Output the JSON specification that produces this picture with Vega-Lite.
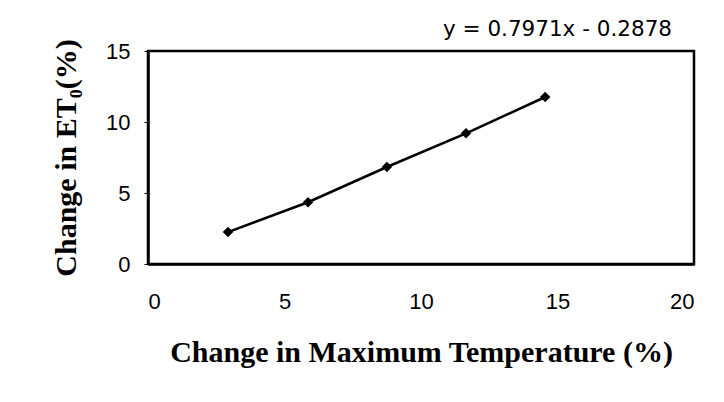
{
  "$schema": "https://vega.github.io/schema/vega-lite/v6.json",
  "autosize": "none",
  "width": 546,
  "height": 213,
  "padding": {"left": 148, "top": 51, "right": 30, "bottom": 138},
  "background": "white",
  "title": {
    "text": "y = 0.7971x - 0.2878",
    "anchor": "end",
    "dx": -22,
    "offset": -2,
    "font": "DejaVu Sans",
    "fontSize": 21.5,
    "fontWeight": "normal",
    "color": "black"
  },
  "data": {
    "values": [
      {"tmax": 2.93, "et0": 2.25},
      {"tmax": 5.86, "et0": 4.35},
      {"tmax": 8.75, "et0": 6.83},
      {"tmax": 11.65, "et0": 9.2},
      {"tmax": 14.55, "et0": 11.76}
    ]
  },
  "encoding": {
    "x": {
      "field": "tmax",
      "type": "quantitative",
      "scale": {"domain": [0, 20], "nice": false},
      "axis": {
        "title": "Change in Maximum Temperature (%)",
        "values": [0, 5, 10, 15, 20],
        "grid": false,
        "ticks": false,
        "labelPadding": 27,
        "titlePadding": 25,
        "labelFont": "Liberation Sans",
        "labelFontSize": 22,
        "labelColor": "black",
        "titleFont": "Liberation Serif",
        "titleFontSize": 30,
        "titleFontWeight": "bold",
        "titleColor": "black",
        "domainColor": "black",
        "domainWidth": 2.5
      }
    },
    "y": {
      "field": "et0",
      "type": "quantitative",
      "scale": {"domain": [0, 15], "nice": false},
      "axis": {
        "title": "Change in ET₀(%)",
        "values": [0, 5, 10, 15],
        "grid": false,
        "tickSize": 4,
        "tickColor": "black",
        "labelPadding": 14,
        "titlePadding": 24,
        "labelFont": "Liberation Sans",
        "labelFontSize": 22,
        "labelColor": "black",
        "titleFont": "Liberation Serif",
        "titleFontSize": 30,
        "titleFontWeight": "bold",
        "titleColor": "black",
        "domainColor": "black",
        "domainWidth": 2.5
      }
    }
  },
  "layer": [
    {"mark": {"type": "line", "color": "black", "strokeWidth": 2.5}},
    {"mark": {"type": "point", "shape": "diamond", "filled": true, "color": "black", "opacity": 1, "size": 110}}
  ],
  "config": {
    "view": {"stroke": "black", "strokeWidth": 2.5}
  }
}
